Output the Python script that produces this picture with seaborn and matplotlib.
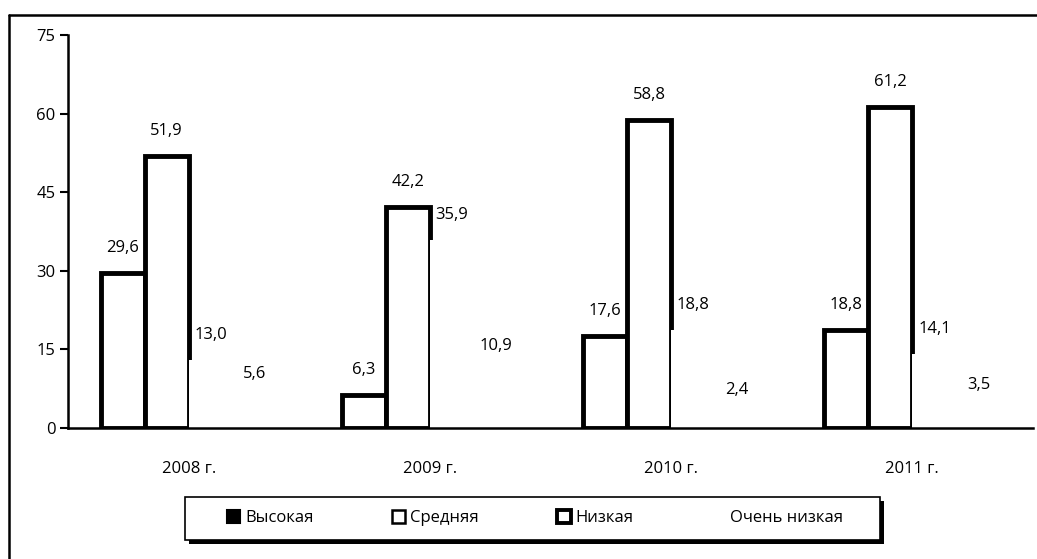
"""Grouped bar chart: distribution by level, 2008-2011."""

import matplotlib
matplotlib.use("Agg")
import matplotlib.pyplot as plt
import seaborn as sns
import pandas as pd
from matplotlib.patches import Patch, Rectangle
from matplotlib.lines import Line2D


years = ["2008 г.", "2009 г.", "2010 г.", "2011 г."]
levels = ["Высокая", "Средняя", "Низкая", "Очень низкая"]

high = [29.6, 6.3, 17.6, 18.8]
medium = [51.9, 42.2, 58.8, 61.2]
low = [13.0, 35.9, 18.8, 14.1]
very_low = [5.6, 10.9, 2.4, 3.5]

y_ticks = [0, 15, 30, 45, 60, 75]

sns.set_style("white")
plt.rcParams["font.family"] = ["Open Sans", "DejaVu Sans"]
plt.rcParams["text.color"] = "black"
plt.rcParams["xtick.color"] = "black"
plt.rcParams["ytick.color"] = "black"

df = pd.DataFrame({
    "year": years * 4,
    "level": [lv for lv in levels for _ in years],
    "value": high + medium + low + very_low,
})

fig = plt.figure(figsize=(10.37, 5.59), dpi=100)
ax = fig.add_axes([0.0656, 0.2343, 0.9305, 0.7031])

sns.barplot(data=df, x="year", y="value", hue="level", order=years,
            hue_order=levels, width=0.73, gap=0, ax=ax, legend=False,
            palette=["white"] * 4, saturation=1)

# first two series drawn with heavy outlines, the other two are left blank
n = len(years)
for i, bar in enumerate(ax.patches[:4 * n]):
    series = i // n
    bar.set_facecolor("white")
    if series < 2:
        bar.set_edgecolor("black")
        bar.set_linewidth(3.5)
    else:
        bar.set_edgecolor("white")
        bar.set_linewidth(0)

# value labels
for bar in ax.patches[:4 * n]:
    h = bar.get_height()
    ax.annotate(f"{h:.1f}".replace(".", ","),
                (bar.get_x() + bar.get_width() / 2, h),
                xytext=(0, 18), textcoords="offset points",
                ha="center", va="center", fontsize=12, color="black")

ax.set_ylim(0, 75)
ax.set_xlim(-0.5, len(years) - 0.5)
ax.set_yticks(y_ticks)
ax.set_yticklabels([str(t) for t in y_ticks], fontsize=12)
ax.set_xticks(range(len(years)))
ax.set_xticklabels(years, fontsize=12)
ax.set_xticks([i - 0.5 for i in range(len(years) + 1)], minor=True)
ax.tick_params(axis="x", which="major", length=0, pad=24)
ax.tick_params(axis="x", which="minor", length=6, width=1.5, direction="out",
               color="black")
ax.tick_params(axis="y", length=6, width=1.5, direction="out", color="black",
               pad=3, left=True)
ax.set_xlabel("")
ax.set_ylabel("")

for side in ["top", "right"]:
    ax.spines[side].set_visible(False)
for side in ["left", "bottom"]:
    ax.spines[side].set_color("black")
    ax.spines[side].set_linewidth(1.8)

# legend box with shadow, drawn separately so it can be wider than its text
fig.add_artist(Rectangle((0.1822, 0.0268), 0.670, 0.077, transform=fig.transFigure,
                         facecolor="black", edgecolor="none", zorder=3))
fig.add_artist(Rectangle((0.1784, 0.034), 0.670, 0.077, transform=fig.transFigure,
                         facecolor="white", edgecolor="black", lw=1.2, zorder=4))

handles = [
    Patch(facecolor="black", edgecolor="black", linewidth=1.5),
    Patch(facecolor="white", edgecolor="black", linewidth=1.8),
    Patch(facecolor="white", edgecolor="black", linewidth=2.8),
    Patch(facecolor="white", edgecolor="white", linewidth=0),
]
leg = fig.legend(handles, levels, loc="center", bbox_to_anchor=(0.516, 0.073),
                 ncol=4, fontsize=12, frameon=False,
                 handlelength=0.8, handleheight=0.8, handletextpad=0.3,
                 columnspacing=4.7, borderpad=0.5, borderaxespad=0)
leg.set_zorder(5)

# chart area border (left and top edges visible)
fig.add_artist(Line2D([0.0087, 0.0087], [0.0, 0.973], color="black", lw=1.8))
fig.add_artist(Line2D([0.0087, 1.0], [0.973, 0.973], color="black", lw=1.8))

fig.savefig("out.png", dpi=100)
